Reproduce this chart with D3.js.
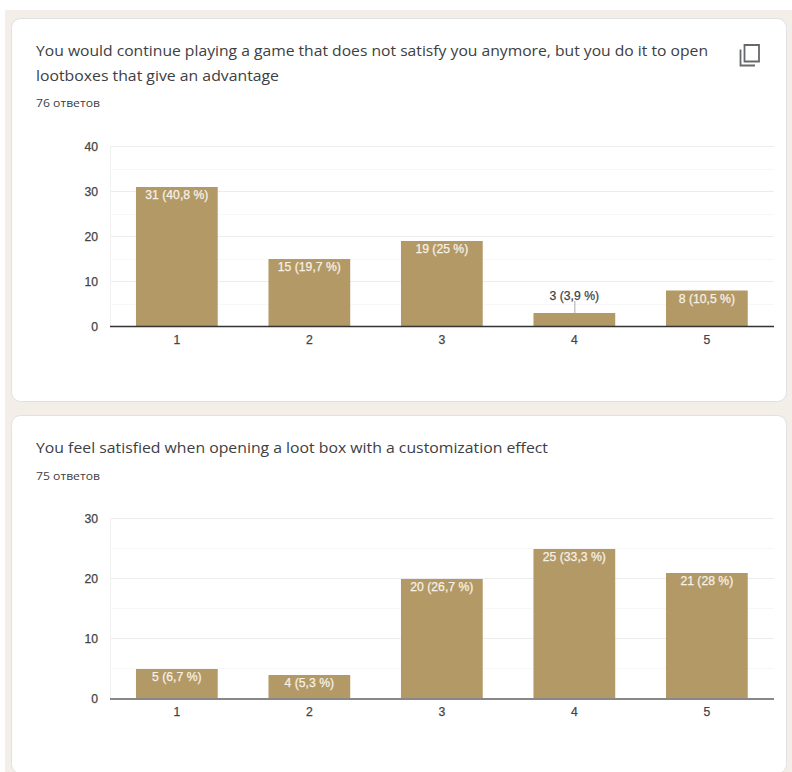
<!DOCTYPE html>
<html><head><meta charset="utf-8">
<script src="https://cdn.jsdelivr.net/npm/d3@7"></script>
<style>html,body{margin:0;padding:0;background:#fff}svg{display:block}</style>
</head><body><svg id="c" width="792" height="772"></svg>
<script>
const categories = ["1","2","3","4","5"];
const title1 = ["You would continue playing a game that does not satisfy you anymore, but you do it to open","lootboxes that give an advantage"];
const count1 = "76 ответов";
const values1 = [31,15,19,3,8];
const labels1 = ["31 (40,8 %)","15 (19,7 %)","19 (25 %)","3 (3,9 %)","8 (10,5 %)"];
const ticks1 = [0,10,20,30,40];
const minor1 = [5,15,25,35];
const title2 = ["You feel satisfied when opening a loot box with a customization effect"];
const count2 = "75 ответов";
const values2 = [5,4,20,25,21];
const labels2 = ["5 (6,7 %)","4 (5,3 %)","20 (26,7 %)","25 (33,3 %)","21 (28 %)"];
const ticks2 = [0,10,20,30];
const minor2 = [5,15,25];

const svg = d3.select("#c");
const BAR="#b39966", INK="#3c4043", TITLE_FONT="'Open Sans',sans-serif", CHART_FONT="'Liberation Sans',Arial,sans-serif";
svg.append("rect").attr("x",5).attr("y",10).attr("width",787).attr("height",762).attr("fill","#f3efe8");

function card(top,h){
  svg.append("rect").attr("x",11.5).attr("y",top).attr("width",775).attr("height",h).attr("rx",9)
    .attr("fill","#fff").attr("stroke","#dfe1e5");
}
function chartText(g,x,y,anchor,fill,t){
  return g.append("text").attr("x",x).attr("y",y).attr("text-anchor",anchor)
    .attr("font-family",CHART_FONT).attr("font-size",12.2).attr("fill",fill)
    .attr("stroke",fill).attr("stroke-width",0.25).text(t);
}
function panel(o){
  card(o.cardTop,o.cardH);
  o.title.forEach((t,i)=>svg.append("text").attr("x",36).attr("y",o.titleY+i*24.5)
    .attr("font-family",TITLE_FONT).attr("font-size",15).attr("fill",INK).attr("textLength",o.titleLen[i]).attr("lengthAdjust","spacingAndGlyphs").text(t));
  svg.append("text").attr("x",36).attr("y",o.countY).attr("font-family",TITLE_FONT).attr("font-size",11.5).attr("fill",INK)
    .attr("textLength",64).attr("lengthAdjust","spacingAndGlyphs").text(o.count);

  const x=d3.scaleBand().domain(categories).range([110,773.7]).paddingInner(0.383).paddingOuter(0.196);
  const y=d3.scaleLinear().domain([0,d3.max(o.ticks)]).range([o.y0,o.yTop]);
  const yBar=y.copy().range([o.y0+o.barShift,o.yTop+o.barShift]);
  const g=svg.append("g");
  g.selectAll(".minor").data(o.minor).join("line").attr("x1",110).attr("x2",774)
    .attr("y1",d=>Math.round(y(d))+.5).attr("y2",d=>Math.round(y(d))+.5).attr("stroke","#f7f7f7");
  g.selectAll(".major").data(o.ticks.slice(1)).join("line").attr("x1",110).attr("x2",774)
    .attr("y1",d=>Math.round(y(d))+.5).attr("y2",d=>Math.round(y(d))+.5).attr("stroke","#ececec");
  g.append("line").attr("x1",110.5).attr("x2",110.5).attr("y1",o.yTop).attr("y2",o.y0).attr("stroke","#f0f0f0");

  g.selectAll(".bar").data(o.values).join("rect").attr("x",(d,i)=>x(categories[i])).attr("width",x.bandwidth())
    .attr("y",d=>yBar(d)).attr("height",d=>yBar(0)-yBar(d)).attr("fill",BAR);

  g.append("line").attr("x1",110).attr("x2",774).attr("y1",o.axisY).attr("y2",o.axisY).attr("stroke",o.axisColor).attr("stroke-width",o.axisW);

  o.ticks.forEach(t=>chartText(g,98,y(t)+5,"end","#444",t));
  categories.forEach(c=>chartText(g,x(c)+x.bandwidth()/2,o.y0+18,"middle","#444",c));

  o.values.forEach((v,i)=>{
    const cx=x(categories[i])+x.bandwidth()/2, outside=(yBar(0)-yBar(v))<20;
    if(outside){
      g.append("line").attr("x1",cx+.5).attr("x2",cx+.5).attr("y1",yBar(v)-12).attr("y2",yBar(v)).attr("stroke","#aaa");
      chartText(g,cx,yBar(v)-13.5,"middle","#444",o.labels[i]);
    } else {
      chartText(g,cx,yBar(v)+12,"middle","#f6f1e6",o.labels[i]);
    }
  });
}
panel({cardTop:18.5,cardH:383,title:title1,titleLen:[672,243],titleY:56,count:count1,countY:107,
  values:values1,labels:labels1,ticks:ticks1,minor:minor1,y0:326,yTop:146,barShift:.5,axisY:326.5,axisColor:"#333",axisW:1.3});
panel({cardTop:415.5,cardH:358,title:title2,titleLen:[512],titleY:453,count:count2,countY:480,
  values:values2,labels:labels2,ticks:ticks2,minor:minor2,y0:698,yTop:518,barShift:1,axisY:699,axisColor:"#888",axisW:2});

// copy icon
svg.append("path")
  .attr("d","M740.5 49.5V65.5H755 M744.5 45H759V61.5H744.5Z")
  .attr("fill","none").attr("stroke","#65686c").attr("stroke-width",1.8);
</script></body></html>
